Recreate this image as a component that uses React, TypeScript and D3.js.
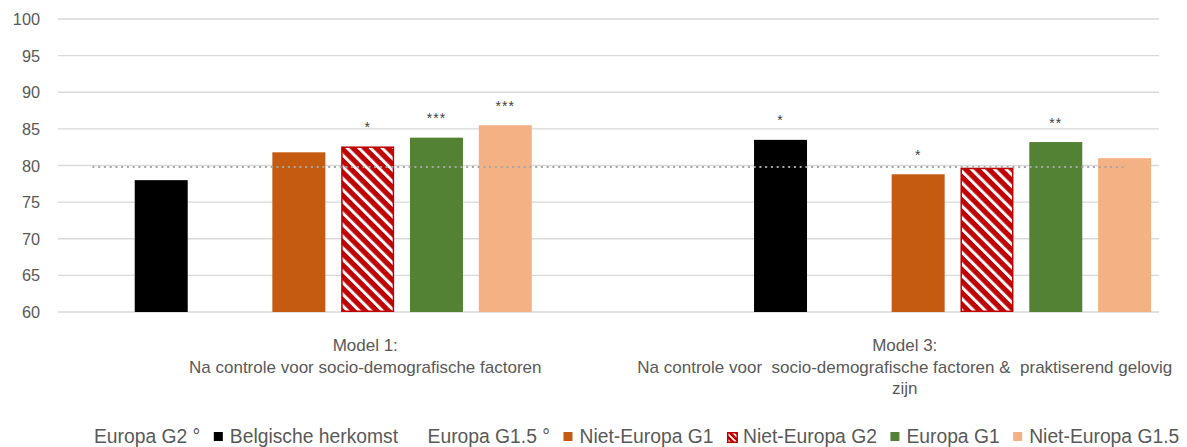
import React, { useEffect, useRef } from "react";
import * as d3 from "d3";

const modelNames = ["Model 1", "Model 3"];
const modelLabelLines = [
  ["Model 1:", "Na controle voor socio-demografische factoren"],
  ["Model 3:", "Na controle voor  socio-demografische factoren &  praktiserend gelovig", "zijn"],
];
const seriesNames = [
  "Europa G2 °",
  "Belgische herkomst",
  "Europa G1.5 °",
  "Niet-Europa G1",
  "Niet-Europa G2",
  "Europa G1",
  "Niet-Europa G1.5",
];
const seriesColors = ["none", "#000000", "none", "#C55A11", "#C00000", "#548235", "#F4B183"];
const seriesHatched = [false, false, false, false, true, false, false];
const valuesModel1: (number | null)[] = [null, 78.0, null, 81.8, 82.6, 83.8, 85.5];
const valuesModel3: (number | null)[] = [null, 83.5, null, 78.8, 79.7, 83.2, 81.0];
const starsModel1 = ["", "", "", "", "*", "***", "***"];
const starsModel3 = ["", "*", "", "*", "", "**", ""];
const slotOffsets = [0, 1];
const referenceValue = 79.8;
const yTicks = [60, 65, 70, 75, 80, 85, 90, 95, 100];

const W = 1187;
const H = 447;
const FONT = "'Liberation Sans', Arial, sans-serif";
const TXT = "#595959";

export default function App() {
  const ref = useRef<SVGSVGElement>(null);

  useEffect(() => {
    const svg = d3.select(ref.current);
    svg.selectAll("*").remove();

    const left = 58, right = 1159, top = 19, bottom = 312;
    const y = d3.scaleLinear().domain([60, 100]).range([bottom, top]);
    const slotsPerGroup = 8;
    const xSlot = d3
      .scaleBand<number>()
      .domain(d3.range(modelNames.length * slotsPerGroup))
      .range([left, right])
      .paddingInner(0.23)
      .paddingOuter(0.115);
    const xGroup = d3.scaleBand<string>().domain(modelNames).range([left, right]);

    const defs = svg.append("defs");
    const mk = (id: string, size: number, stripe: number) => {
      const p = defs
        .append("pattern")
        .attr("id", id)
        .attr("patternUnits", "userSpaceOnUse")
        .attr("width", size)
        .attr("height", size)
        .attr("patternTransform", "rotate(-45)");
      p.append("rect").attr("width", size).attr("height", size).attr("fill", "#C00000");
      p.append("rect").attr("x", 0).attr("width", stripe).attr("height", size).attr("fill", "#ffffff");
    };
    mk("hatch", 8.2, 3);
    mk("hatchSmall", 4.5, 1.8);

    svg
      .append("g")
      .selectAll("line")
      .data(yTicks)
      .join("line")
      .attr("x1", left)
      .attr("x2", right)
      .attr("y1", (d) => y(d))
      .attr("y2", (d) => y(d))
      .attr("stroke", "#d9d9d9")
      .attr("stroke-width", 1.3);

    svg
      .append("g")
      .selectAll("text")
      .data(yTicks)
      .join("text")
      .attr("x", 40)
      .attr("y", (d) => y(d) + 6)
      .attr("text-anchor", "end")
      .attr("font-family", FONT)
      .attr("font-size", 16.3)
      .attr("fill", TXT)
      .text((d) => d);

    const allValues = [valuesModel1, valuesModel3];
    const allStars = [starsModel1, starsModel3];
    type Bar = { g: number; s: number; v: number; star: string };
    const bars: Bar[] = [];
    const starsList: Bar[] = [];
    allValues.forEach((vals, g) =>
      vals.forEach((v, s) => {
        if (v != null) {
          bars.push({ g, s, v, star: allStars[g][s] });
          if (allStars[g][s]) starsList.push({ g, s, v, star: allStars[g][s] });
        }
      })
    );
    const slotX = (b: Bar) => xSlot(b.g * slotsPerGroup + slotOffsets[b.g] + b.s)!;
    const bw = xSlot.bandwidth();

    svg
      .append("g")
      .selectAll("rect")
      .data(bars)
      .join("rect")
      .attr("x", (d) => slotX(d) + (seriesHatched[d.s] ? 0.75 : 0))
      .attr("y", (d) => y(d.v) + (seriesHatched[d.s] ? 0.75 : 0))
      .attr("width", (d) => bw - (seriesHatched[d.s] ? 1.5 : 0))
      .attr("height", (d) => y(60) - y(d.v) - (seriesHatched[d.s] ? 1.5 : 0))
      .attr("fill", (d) => (seriesHatched[d.s] ? "url(#hatch)" : seriesColors[d.s]))
      .attr("stroke", (d) => (seriesHatched[d.s] ? "#C00000" : "none"))
      .attr("stroke-width", 1.5);

    const firstSlot = 0;
    const lastSlot = modelNames.length * slotsPerGroup - 1;
    svg
      .append("line")
      .attr("x1", xSlot(firstSlot)! + bw / 2)
      .attr("x2", xSlot(lastSlot)! + bw / 2)
      .attr("y1", y(referenceValue))
      .attr("y2", y(referenceValue))
      .attr("stroke", "#a6a6a6")
      .attr("stroke-width", 2)
      .attr("stroke-dasharray", "2 3.75");

    svg
      .append("g")
      .selectAll("text")
      .data(starsList)
      .join("text")
      .attr("x", (d) => slotX(d) + bw / 2)
      .attr("y", (d) => y(d.v) - 14.5)
      .attr("text-anchor", "middle")
      .attr("font-family", FONT)
      .attr("font-size", 14)
      .attr("letter-spacing", 1)
      .attr("fill", "#404040")
      .text((d) => d.star);

    const labelShift = [32, 21];
    modelNames.forEach((m, g) => {
      const cx = xGroup(m)! + xGroup.bandwidth() / 2 + labelShift[g];
      const t = svg
        .append("text")
        .attr("text-anchor", "middle")
        .attr("font-family", FONT)
        .attr("font-size", 17)
        .attr("fill", TXT)
        .style("white-space", "pre");
      modelLabelLines[g].forEach((line, i) => {
        t.append("tspan").attr("x", cx).attr("y", 351 + i * 21.5).text(line);
      });
    });

    let lx = 78;
    const ly = 443;
    seriesNames.forEach((name, s) => {
      if (seriesColors[s] !== "none") {
        svg
          .append("rect")
          .attr("x", lx + (seriesHatched[s] ? 0.75 : 0))
          .attr("y", ly - 11 + (seriesHatched[s] ? 0.75 : 0))
          .attr("width", seriesHatched[s] ? 9.5 : 9)
          .attr("height", seriesHatched[s] ? 9.5 : 9)
          .attr("fill", seriesHatched[s] ? "url(#hatchSmall)" : seriesColors[s])
          .attr("stroke", seriesHatched[s] ? "#C00000" : "none")
          .attr("stroke-width", 1.5);
      }
      const t = svg
        .append("text")
        .attr("x", lx + 16)
        .attr("y", ly)
        .attr("font-family", FONT)
        .attr("font-size", 19.3)
        .attr("fill", TXT)
        .text(name);
      const w = (t.node() as SVGTextElement).getComputedTextLength();
      lx += 16 + w + 13.5;
    });
  }, []);

  return (
    <svg
      ref={ref}
      width={W}
      height={H}
      style={{ position: "absolute", left: 0, top: 0, background: "#ffffff" }}
    />
  );
}
